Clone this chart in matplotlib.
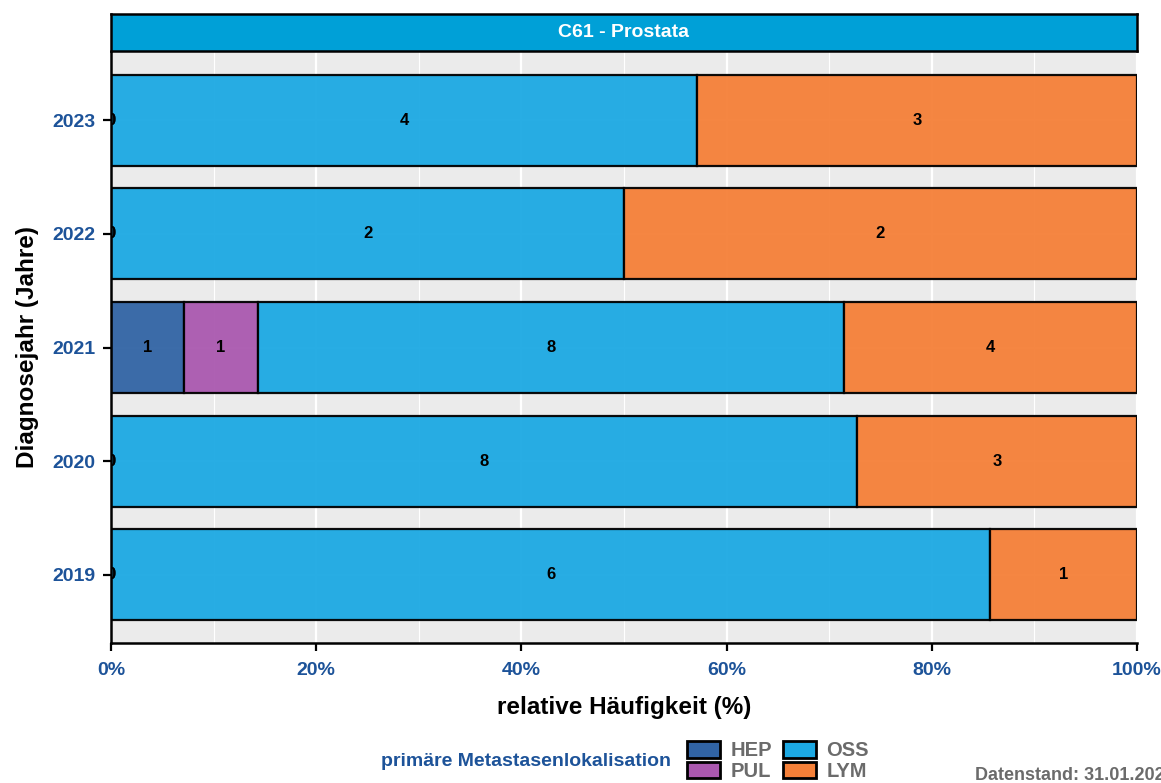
import numpy as np
import matplotlib.pyplot as plt
from matplotlib.patches import Patch

years = [2019, 2020, 2021, 2022, 2023]
categories = ["HEP", "PUL", "OSS", "LYM"]
counts = {
    "HEP": [0, 0, 1, 0, 0],
    "PUL": [0, 0, 1, 0, 0],
    "OSS": [6, 8, 8, 2, 4],
    "LYM": [1, 3, 4, 2, 3],
}
colours = {"HEP": "#3164A5", "PUL": "#AA58AF", "OSS": "#1CA9E3", "LYM": "#F58038"}
blue_txt = "#1D5399"
grey_txt = "#6B6B6B"

plt.rcParams["font.family"] = ["Liberation Sans", "DejaVu Sans"]
plt.rcParams["font.weight"] = "bold"

fig = plt.figure(figsize=(11.61, 7.83), dpi=100)
ax = fig.add_axes([111 / 1161, 1 - 643 / 783, 1026 / 1161, 591 / 783])
strip = fig.add_axes([111 / 1161, 1 - 51 / 783, 1026 / 1161, 37 / 783])

ax.set_facecolor("#EBEBEB")
ax.set_xlim(0, 1)
ax.set_ylim(years[0] - 0.6, years[-1] + 0.6)
ax.set_xticks(np.arange(0, 1.01, 0.2))
ax.set_xticks(np.arange(0.1, 1.0, 0.2), minor=True)
ax.grid(True, which="major", color="white", lw=1.6)
ax.grid(True, which="minor", axis="x", color="white", lw=0.8)
ax.set_axisbelow(True)

totals = np.sum([counts[c] for c in categories], axis=0)
left = np.zeros(len(years))
for c in categories:
    vals = np.array(counts[c])
    frac = vals / totals
    ax.barh(years, frac, left=left, height=0.8, color=colours[c], alpha=0.95,
            edgecolor="black", lw=1.6, zorder=2)
    for y, l, f, v in zip(years, left, frac, vals):
        ax.text(l + f / 2, y, str(v), ha="center", va="center", fontsize=12,
                fontweight="bold", color="black", zorder=3, clip_on=True)
    left = left + frac

ax.set_yticks(years)
ax.set_xticklabels([f"{int(round(v * 100))}%" for v in np.arange(0, 1.01, 0.2)])
ax.tick_params(axis="both", which="major", length=6, width=1.6, color="black",
               labelsize=14, labelcolor=blue_txt, pad=5)
ax.tick_params(axis="x", which="major", pad=8)
ax.tick_params(axis="x", which="minor", length=0)
for lab in ax.get_xticklabels() + ax.get_yticklabels():
    lab.set_fontweight("bold")
for s in ["top", "right"]:
    ax.spines[s].set_visible(False)
for s in ["left", "bottom"]:
    ax.spines[s].set_linewidth(1.8)
ax.set_xlabel("relative Häufigkeit (%)", fontsize=17.5, fontweight="bold", labelpad=12)
ax.set_ylabel("Diagnosejahr (Jahre)", fontsize=17.5, fontweight="bold", labelpad=10)

strip.set_facecolor("#00A0D7")
strip.set_xticks([])
strip.set_yticks([])
for s in strip.spines.values():
    s.set_linewidth(1.8)
strip.text(0.5, 0.5, "C61 - Prostata", ha="center", va="center", color="white",
           fontsize=14, fontweight="bold", transform=strip.transAxes)

handles = [Patch(facecolor=colours[c], edgecolor="black", lw=2, label=c)
           for c in categories]
fig.text(381 / 1161, 1 - 761 / 783, "primäre Metastasenlokalisation", ha="left",
         va="center", color=blue_txt, fontsize=14, fontweight="bold")
leg = fig.legend(handles=handles, ncol=2, loc="center left",
                 bbox_to_anchor=(687 / 1161, 1 - 761 / 783), frameon=False,
                 fontsize=14.5, handlelength=1.65, handleheight=0.85,
                 handletextpad=0.5, columnspacing=0.55, labelspacing=0.05,
                 borderpad=0, borderaxespad=0)
for t in leg.get_texts():
    t.set_color(grey_txt)
    t.set_fontweight("bold")

# the reference cuts this text at the right edge
fig.text(975 / 1161, 1 - 775 / 783, "Datenstand: 31.01.2024", ha="left",
         va="center", color=grey_txt, fontsize=13, fontweight="bold")

fig.savefig("out.png", dpi=100)
